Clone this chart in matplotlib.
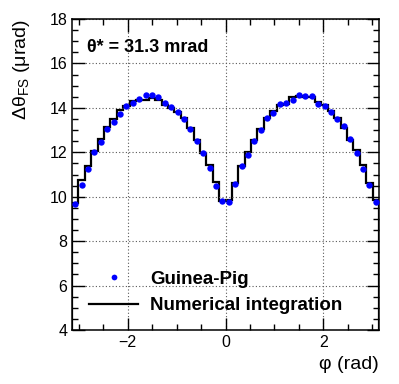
import numpy as np
import matplotlib
matplotlib.use("Agg")
import matplotlib.pyplot as plt
from matplotlib.ticker import MultipleLocator

plt.rcParams['font.family'] = ['Liberation Sans', 'DejaVu Sans']
plt.rcParams['mathtext.fontset'] = 'custom'
plt.rcParams['mathtext.rm'] = 'Liberation Sans'

# 48 bins over [-pi, pi]
n_bins = 48
edges = np.linspace(-np.pi, np.pi, n_bins + 1)
centers = 0.5 * (edges[:-1] + edges[1:])

# numerical integration (step histogram)
numint = [9.71, 10.75, 11.38, 12.05, 12.58, 13.12, 13.48, 13.90, 14.07, 14.32,
          14.37, 14.37, 14.44, 14.35, 14.15, 13.98, 13.80, 13.55, 13.10, 12.55,
          11.95, 11.45, 10.67, 9.80, 9.85, 10.60, 11.38, 12.02, 12.55, 13.07,
          13.53, 13.85, 14.11, 14.17, 14.50, 14.52, 14.48, 14.47, 14.25, 14.14,
          13.85, 13.54, 13.10, 12.55, 12.10, 11.42, 10.63, 9.85]

# Guinea-Pig points
guinea = [9.67, 10.55, 11.27, 12.02, 12.47, 13.03, 13.36, 13.73, 14.07, 14.22,
          14.41, 14.56, 14.59, 14.47, 14.22, 14.02, 13.81, 13.51, 13.03, 12.50,
          11.95, 11.30, 10.49, 9.81, 9.74, 10.57, 11.38, 11.87, 12.50, 13.01,
          13.54, 13.78, 14.17, 14.22, 14.37, 14.56, 14.53, 14.53, 14.17, 14.07,
          13.81, 13.51, 13.17, 12.59, 11.95, 11.27, 10.52, 9.77]

fig = plt.figure(figsize=(3.99, 3.84), dpi=100)
ax = fig.add_axes([0.1805, 0.1406, 0.7694, 0.8099])

ax.stairs(numint, edges, color='black', linewidth=1.6, label='Numerical integration')
ax.plot(centers, guinea, 'o', color='blue', markersize=4.6, markeredgewidth=0,
        label='Guinea-Pig', zorder=3)

ax.set_xlim(-np.pi, np.pi)
ax.set_ylim(4, 18)
ax.xaxis.set_major_locator(MultipleLocator(2))
ax.xaxis.set_minor_locator(MultipleLocator(0.5))
ax.yaxis.set_major_locator(MultipleLocator(2))
ax.yaxis.set_minor_locator(MultipleLocator(0.5))
ax.tick_params(which='both', direction='in', top=True, right=True, labelsize=11.5,
               width=1)
ax.tick_params(which='major', length=9)
ax.tick_params(which='minor', length=4.5)
ax.grid(True, which='major', color='0.35', linestyle=(0, (1, 2)), linewidth=0.8)
for s in ax.spines.values():
    s.set_linewidth(1.1)

ax.set_xlabel('φ (rad)', fontsize=14, loc='right')
ax.set_ylabel('Δθ$_{\\rm FS}$ (μrad)', fontsize=14, loc='top')
ax.yaxis.set_label_coords(-0.13, 1.0)
ax.xaxis.set_label_coords(1.0, -0.085)

ax.text(-2.84, 16.7, 'θ* = 31.3 mrad', fontsize=13, fontweight='bold', va='center')

h, l = ax.get_legend_handles_labels()
ax.legend(h[::-1], l[::-1], frameon=False, loc='lower left',
          bbox_to_anchor=(0.02, 0.015), prop={'weight': 'bold', 'size': 13.5},
          handlelength=2.6, handletextpad=0.65, labelspacing=0.5, borderaxespad=0.2,
          markerscale=0.9)

fig.savefig('out.png', dpi=100)
